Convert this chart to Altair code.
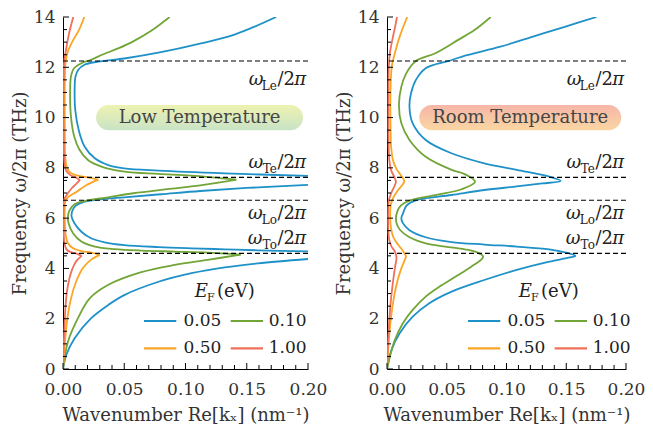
import altair as alt
import pandas as pd

FONT = "DejaVu Serif"
TEXT_COLOR = "#333333"

EF_LABELS = ["0.05", "0.10", "0.50", "1.00"]
COLORS = ["#1e91c8", "#72a537", "#faa523", "#f0705a"]
OMEGA_SUBS = ["Le", "Te", "Lo", "To"]
OMEGA_THZ = [12.25, 7.62, 6.71, 4.60]
X_TICKS = [0.0, 0.05, 0.10, 0.15, 0.20]
X_MINOR = [0.01, 0.02, 0.03, 0.04, 0.06, 0.07, 0.08, 0.09, 0.11, 0.12, 0.13, 0.14,
           0.16, 0.17, 0.18, 0.19]
Y_TICKS = [0, 2, 4, 6, 8, 10, 12, 14]
Y_MINOR = [0.5, 1, 1.5, 2.5, 3, 3.5, 4.5, 5, 5.5, 6.5, 7, 7.5, 8.5, 9, 9.5, 10.5, 11,
           11.5, 12.5, 13, 13.5]

# ---------- Low temperature: (k [nm^-1], f [THz]) ----------
LT_005_A = [(0, 0), (0.0027, 0.56), (0.0095, 1.22), (0.023, 2.02), (0.037, 2.55),
            (0.050, 2.94), (0.078, 3.47), (0.105, 3.81), (0.132, 4.04), (0.159, 4.20),
            (0.20, 4.375)]
LT_005_B = [(0.20, 4.68), (0.159, 4.72), (0.132, 4.76), (0.105, 4.80), (0.078, 4.85),
            (0.050, 4.93), (0.034, 5.04), (0.023, 5.20), (0.015, 5.46), (0.0095, 5.79),
            (0.0070, 6.06), (0.0078, 6.32), (0.0105, 6.50), (0.016, 6.63), (0.028, 6.73),
            (0.050, 6.83), (0.080, 6.95), (0.112, 7.08), (0.150, 7.20), (0.20, 7.32)]
LT_005_C = [(0.20, 7.68), (0.132, 7.78), (0.078, 7.89), (0.050, 7.98), (0.037, 8.11),
            (0.026, 8.38), (0.0177, 8.84), (0.0128, 9.51), (0.0100, 10.3), (0.0095, 11.1),
            (0.0102, 11.63), (0.0125, 11.9), (0.0175, 12.1), (0.028, 12.22), (0.050, 12.35),
            (0.080, 12.6), (0.110, 12.92), (0.140, 13.3), (0.174, 14.0)]

LT_010_A = [(0, 0), (0.0041, 1.09), (0.0122, 2.02), (0.0218, 2.81), (0.0367, 3.34),
            (0.0639, 3.85), (0.0912, 4.14), (0.118, 4.34), (0.145, 4.55)]
LT_010_B = [(0.145, 4.55), (0.118, 4.63), (0.091, 4.67), (0.064, 4.71), (0.042, 4.77),
            (0.026, 4.87), (0.015, 5.07), (0.0082, 5.40), (0.0046, 5.79), (0.0040, 6.06),
            (0.0054, 6.32), (0.0095, 6.55), (0.0177, 6.68), (0.037, 6.83), (0.0574, 6.99),
            (0.085, 7.15), (0.112, 7.30), (0.1415, 7.53)]
LT_010_C = [(0.1415, 7.53), (0.1048, 7.69), (0.0776, 7.76), (0.0503, 7.85), (0.0313, 8.05),
            (0.0204, 8.31), (0.0136, 8.71), (0.0092, 9.24), (0.0065, 10.04), (0.0058, 10.97),
            (0.0065, 11.63), (0.009, 11.96), (0.015, 12.16), (0.023, 12.30), (0.033, 12.52),
            (0.045, 12.75), (0.057, 13.02), (0.072, 13.45), (0.087, 14.0)]

LT_050_A = [(0, 0), (0.0015, 1.0), (0.0035, 2.0), (0.0065, 2.8), (0.0105, 3.45),
            (0.016, 4.0), (0.023, 4.35), (0.030, 4.54)]
LT_050_B = [(0.030, 4.54), (0.023, 4.63), (0.015, 4.69), (0.0082, 4.80), (0.0041, 5.0),
            (0.0022, 5.33), (0.0015, 5.86), (0.0015, 6.5), (0.0020, 6.70), (0.0045, 6.85),
            (0.0112, 7.05), (0.0193, 7.32), (0.0288, 7.53)]
LT_050_C = [(0.0288, 7.53), (0.0193, 7.63), (0.0112, 7.70), (0.0057, 7.82), (0.0030, 8.05),
            (0.0018, 8.45), (0.0015, 9.5), (0.0015, 11.5), (0.0022, 12.25), (0.0044, 12.69),
            (0.0084, 13.09), (0.0130, 13.48), (0.0174, 14.0)]

LT_100_A = [(0, 0), (0.0008, 1.2), (0.0017, 2.2), (0.0030, 3.0), (0.0052, 3.6),
            (0.0078, 4.0), (0.0110, 4.3), (0.0152, 4.5)]
LT_100_B = [(0.0152, 4.5), (0.0106, 4.60), (0.0063, 4.65), (0.0030, 4.75), (0.0012, 5.0),
            (0.0006, 5.5), (0.0005, 6.5), (0.0010, 6.75), (0.0030, 6.92), (0.0071, 7.19),
            (0.0112, 7.38), (0.0139, 7.52)]
LT_100_C = [(0.0139, 7.52), (0.0098, 7.63), (0.0057, 7.72), (0.0024, 7.90), (0.0012, 8.2),
            (0.0006, 9.0), (0.0006, 11.8), (0.0010, 12.25), (0.0025, 12.7), (0.0044, 13.22),
            (0.0062, 13.6), (0.0084, 14.0)]

# ---------- Room temperature ----------
RT_005 = [(0, 0), (0.0038, 0.76), (0.0106, 1.42), (0.0215, 2.08), (0.0351, 2.61),
          (0.0541, 3.08), (0.0814, 3.54), (0.1086, 3.94), (0.1358, 4.27), (0.152, 4.43),
          (0.1576, 4.50), (0.149, 4.64), (0.1358, 4.76), (0.1086, 4.87), (0.0814, 4.95),
          (0.054, 5.05), (0.0324, 5.24), (0.0188, 5.52), (0.0133, 5.80), (0.012, 6.0),
          (0.0135, 6.2), (0.0163, 6.5), (0.024, 6.71), (0.054, 6.92), (0.0814, 7.12),
          (0.1086, 7.26), (0.130, 7.38), (0.1453, 7.48), (0.1358, 7.65), (0.1086, 7.92),
          (0.0814, 8.18), (0.054, 8.58), (0.0324, 9.11), (0.0215, 9.77), (0.0188, 10.43),
          (0.0201, 10.97), (0.0242, 11.5), (0.0324, 11.96), (0.0514, 12.25), (0.0678, 12.49),
          (0.0949, 12.82), (0.1222, 13.22), (0.1494, 13.62), (0.1753, 14.0)]
RT_010 = [(0, 0), (0.0024, 0.49), (0.0065, 1.15), (0.0133, 1.82), (0.0215, 2.35),
          (0.0324, 2.88), (0.046, 3.34), (0.0596, 3.74), (0.0705, 4.07), (0.0786, 4.34),
          (0.0805, 4.47), (0.0759, 4.63), (0.065, 4.76), (0.0487, 4.87), (0.0324, 5.0),
          (0.0188, 5.24), (0.011, 5.53), (0.008, 5.8), (0.0075, 6.0), (0.0085, 6.25),
          (0.0115, 6.5), (0.0188, 6.7), (0.0405, 6.92), (0.0623, 7.15), (0.0737, 7.45),
          (0.065, 7.75), (0.0541, 7.92), (0.0324, 8.44), (0.0188, 9.11), (0.012, 9.77),
          (0.010, 10.5), (0.012, 11.23), (0.0161, 11.76), (0.0242, 12.25), (0.0405, 12.56),
          (0.0596, 13.09), (0.0732, 13.48), (0.0868, 14.0)]
RT_050 = [(0, 0), (0.001, 0.8), (0.003, 1.9), (0.006, 2.9), (0.009, 3.55), (0.012, 4.0),
          (0.0148, 4.33), (0.0158, 4.48), (0.0133, 4.7), (0.0092, 4.95), (0.0052, 5.25),
          (0.0032, 5.65), (0.0027, 6.1), (0.003, 6.5), (0.005, 6.8), (0.009, 7.1),
          (0.0125, 7.3), (0.0145, 7.47), (0.012, 7.68), (0.008, 7.95), (0.005, 8.3),
          (0.0035, 8.8), (0.003, 9.5), (0.0028, 10.5), (0.0032, 11.5), (0.0042, 12.1),
          (0.0068, 12.6), (0.0106, 13.22), (0.0169, 14.0)]
RT_100 = [(0, 0), (0.0011, 1.29), (0.003, 2.61), (0.0052, 3.54), (0.0068, 4.07),
          (0.0079, 4.44), (0.0065, 4.68), (0.0038, 4.87), (0.0019, 5.13), (0.0011, 5.53),
          (0.001, 6.2), (0.0015, 6.7), (0.004, 7.05), (0.0065, 7.3), (0.0075, 7.45),
          (0.006, 7.65), (0.0035, 7.9), (0.002, 8.3), (0.0013, 9.0), (0.0012, 11.0),
          (0.0015, 12.0), (0.0025, 12.6), (0.0045, 13.1), (0.0065, 13.55), (0.0084, 14.0)]

LT_SEGMENTS = [("0.05", "a", LT_005_A), ("0.05", "b", LT_005_B), ("0.05", "c", LT_005_C),
               ("0.10", "a", LT_010_A), ("0.10", "b", LT_010_B), ("0.10", "c", LT_010_C),
               ("0.50", "a", LT_050_A), ("0.50", "b", LT_050_B), ("0.50", "c", LT_050_C),
               ("1.00", "a", LT_100_A), ("1.00", "b", LT_100_B), ("1.00", "c", LT_100_C)]
RT_SEGMENTS = [("0.05", "a", RT_005), ("0.10", "a", RT_010),
               ("0.50", "a", RT_050), ("1.00", "a", RT_100)]

# ---------- layout / style constants ----------
W_LEFT, W_RIGHT, H = 245, 239, 352
LABEL_DY = [24, -9, 19, -9]
TICK_FS, TITLE_FS, BOX_FS, LEG_FS = 17, 18, 18, 17
MAIN_FS, SUB_FS = 18, 12
W_PI, W_SLASH2 = 11.0, 17.6
W_SUB = {"Le": 13.5, "Te": 13.8, "Lo": 14.2, "To": 14.4}
LEG_X0, LEG_DX, LEG_Y0, LEG_DY, SYM_LEN, LAB_OFF = 81, 86.7, 304, 27.3, 32.3, 39.5

xs = alt.Scale(domain=[0, 0.2], nice=False)
ys = alt.Scale(domain=[0, 14], nice=False)
XAXIS = alt.Axis(values=X_TICKS, format=".2f", title="Wavenumber Re[kₓ] (nm⁻¹)",
                 labelPadding=12, titlePadding=9)
YAXIS = alt.Axis(values=Y_TICKS, format="d", title="Frequency ω/2π (THz)",
                 labelPadding=8, titlePadding=4)


def frame(segments):
    rows = []
    for ef, seg, pts in segments:
        for i, (k, f) in enumerate(pts):
            rows.append({"ef": ef, "seg": ef + seg, "i": i, "k": k, "f": f})
    return pd.DataFrame(rows)


def panel(segments, stops, label, width):
    dummy = pd.DataFrame({"d": [0]})
    layers = []

    layers.append(alt.Chart(frame(segments)).mark_line(
        interpolate="catmull-rom", strokeWidth=1.8, clip=True).encode(
        x=alt.X("k:Q", scale=xs, axis=XAXIS),
        y=alt.Y("f:Q", scale=ys, axis=YAXIS),
        color=alt.Color("ef:N", scale=alt.Scale(domain=EF_LABELS, range=COLORS),
                        legend=None),
        detail="seg:N",
        order=alt.Order("i:Q")))

    grad = alt.LinearGradient(
        gradient="linear",
        stops=[alt.GradientStop(color=stops[0], offset=0),
               alt.GradientStop(color=stops[1], offset=1)],
        x1=0, x2=0, y1=0, y2=1)
    layers.append(alt.Chart(dummy).mark_rect(cornerRadius=12.5, fill=grad).encode(
        x=alt.XDatum(0.027, scale=xs, axis=XAXIS), x2=alt.X2Datum(0.196),
        y=alt.YDatum(10.5, scale=ys, axis=YAXIS), y2=alt.Y2Datum(9.5)))
    layers.append(alt.Chart(dummy).mark_text(
        text=label, font=FONT, fontSize=BOX_FS, color="#454545", align="center",
        baseline="middle").encode(
        x=alt.XDatum(0.1115, scale=xs, axis=XAXIS),
        y=alt.YDatum(10.0, scale=ys, axis=YAXIS)))

    layers.append(alt.Chart(pd.DataFrame({"w": OMEGA_THZ})).mark_rule(
        color="black", strokeWidth=1.1, strokeDash=[5, 3]).encode(
        y=alt.Y("w:Q", scale=ys, axis=YAXIS)))

    # omega labels, built from pieces
    for sub, w, dy in zip(OMEGA_SUBS, OMEGA_THZ, LABEL_DY):
        right = width - 2
        pieces = [("π", right, MAIN_FS, "italic", 0),
                  ("/2", right - W_PI, MAIN_FS, "normal", 0),
                  (sub, right - W_PI - W_SLASH2 - 0.5, SUB_FS, "normal", 4.5),
                  ("ω", right - W_PI - W_SLASH2 - 0.5 - W_SUB[sub], MAIN_FS, "italic", 0)]
        for txt, xpx, fs, style, ddy in pieces:
            layers.append(alt.Chart(dummy).mark_text(
                text=txt, font=FONT, fontSize=fs, fontStyle=style, color="#222222",
                align="right", baseline="alphabetic", dy=dy + ddy).encode(
                x=alt.value(xpx), y=alt.YDatum(w, scale=ys, axis=YAXIS)))

    # legend title  E_F (eV)
    for txt, xpx, fs, style, ypx in [("E", 131.7, 18, "italic", 279.7),
                                     ("F", 144.0, 11, "normal", 283.7),
                                     ("(eV)", 154.0, 18, "normal", 279.7)]:
        layers.append(alt.Chart(dummy).mark_text(
            text=txt, font=FONT, fontSize=fs, fontStyle=style, color="#222222",
            align="left", baseline="alphabetic").encode(
            x=alt.value(xpx), y=alt.value(ypx)))

    # legend entries
    for idx, (lab, col) in enumerate(zip(EF_LABELS, COLORS)):
        r, c = divmod(idx, 2)
        x0 = LEG_X0 + c * LEG_DX
        y0 = LEG_Y0 + r * LEG_DY
        layers.append(alt.Chart(dummy).mark_rule(color=col, strokeWidth=2.2).encode(
            x=alt.value(x0), x2=alt.value(x0 + SYM_LEN), y=alt.value(y0)))
        layers.append(alt.Chart(dummy).mark_text(
            text=lab, font=FONT, fontSize=LEG_FS, color="#222222", align="left",
            baseline="middle").encode(x=alt.value(x0 + LAB_OFF - (1.5 if c else 0)),
                                      y=alt.value(y0)))

    # inward ticks
    for vals, size in [(X_TICKS, 6), (X_MINOR, 4)]:
        layers.append(alt.Chart(pd.DataFrame({"t": vals})).mark_rule(
            color="black", strokeWidth=1).encode(
            x=alt.X("t:Q", scale=xs, axis=XAXIS), y=alt.value(H), y2=alt.value(H - size)))
    for vals, size in [(Y_TICKS, 6), (Y_MINOR, 4)]:
        layers.append(alt.Chart(pd.DataFrame({"t": vals})).mark_rule(
            color="black", strokeWidth=1).encode(
            y=alt.Y("t:Q", scale=ys, axis=YAXIS), x=alt.value(0), x2=alt.value(size)))

    return alt.layer(*layers).properties(width=width, height=H)


left = panel(LT_SEGMENTS, ["#eef2b0", "#c9e3c6"], "Low Temperature", W_LEFT)
right = panel(RT_SEGMENTS, ["#f6b6a8", "#fad6a2"], "Room Temperature", W_RIGHT)

chart = alt.hconcat(left, right, spacing=8).resolve_scale(
    x="independent", y="independent", color="independent"
).properties(
    padding={"left": 3, "top": 0, "right": 0, "bottom": 0}, background="white"
).configure_view(stroke=None).configure_axis(
    labelFont=FONT, labelFontSize=TICK_FS, labelColor=TEXT_COLOR,
    titleFont=FONT, titleFontSize=TITLE_FS, titleFontWeight="normal", titleColor=TEXT_COLOR,
    domainColor="black", domainWidth=1, ticks=False, tickSize=0, grid=False,
    labelFlush=False
)

chart.save("out.html", embed_options={"renderer": "svg", "actions": False})
